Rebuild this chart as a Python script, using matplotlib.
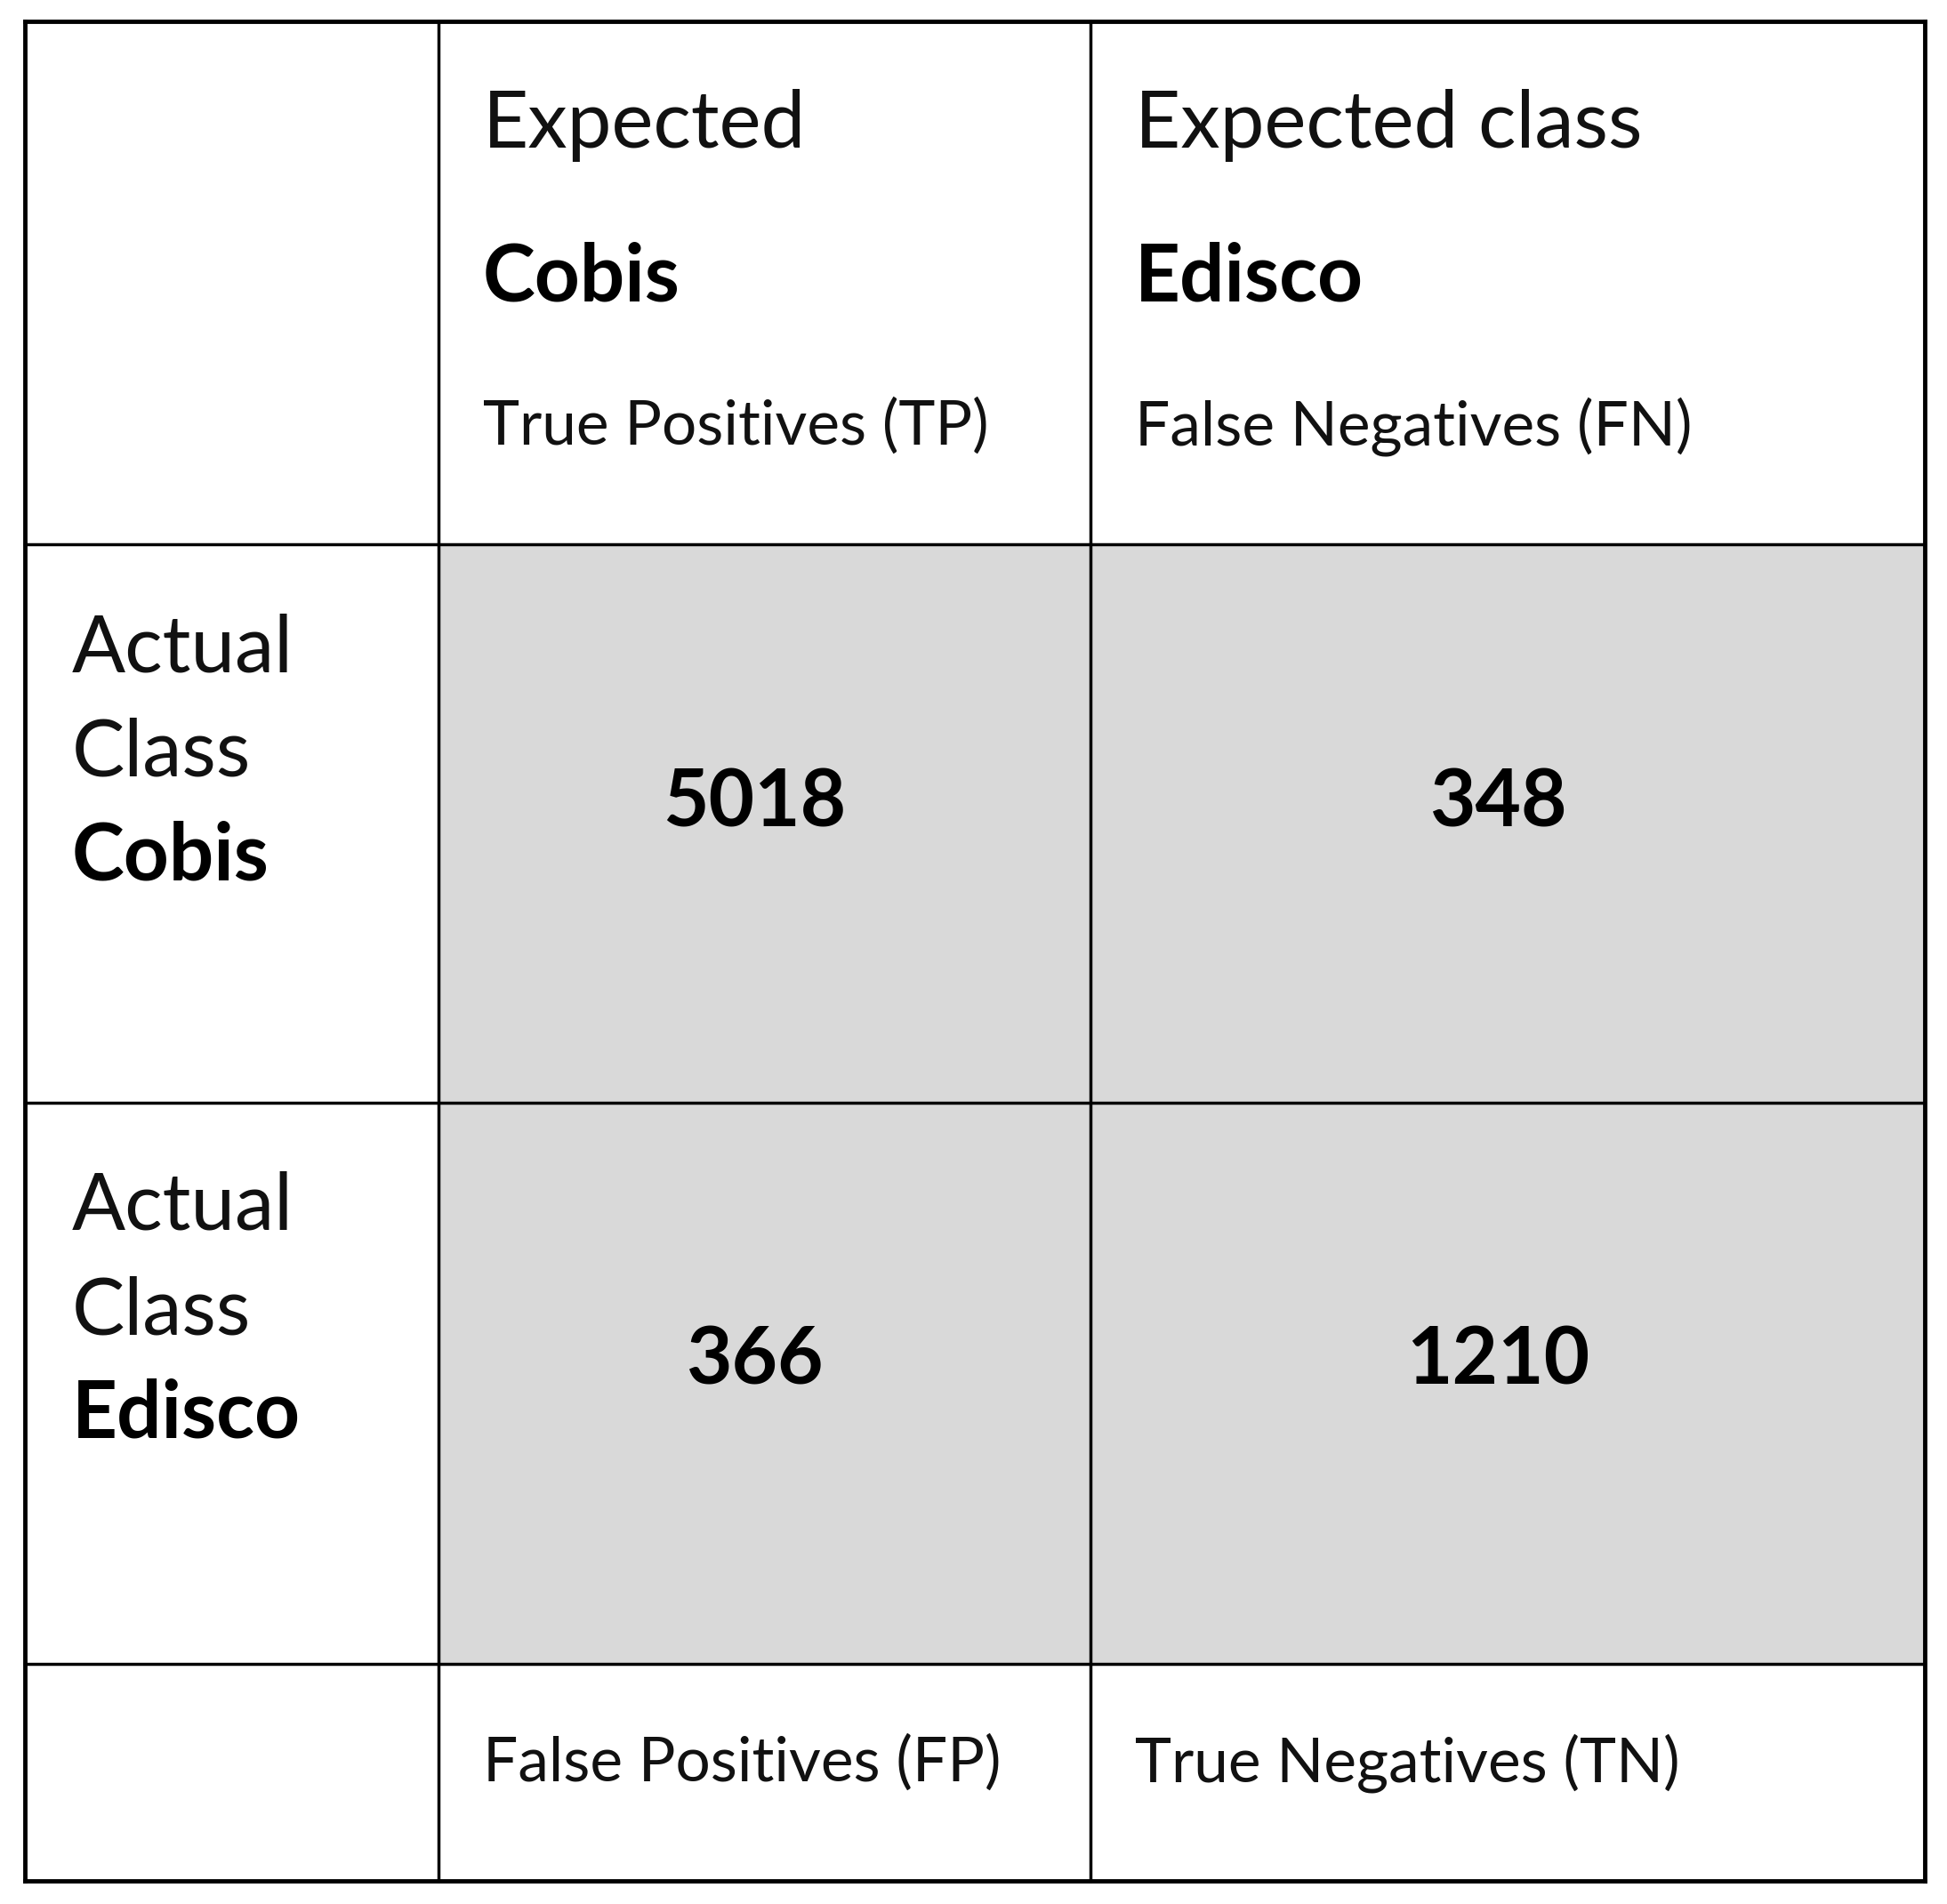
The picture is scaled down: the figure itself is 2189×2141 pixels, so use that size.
import matplotlib.pyplot as plt
from matplotlib.patches import Rectangle

plt.rcParams['font.family'] = ['Lato', 'DejaVu Sans']

# table content
col_head_top = ["Expected", "Expected class"]
classes = ["Cobis", "Edisco"]
top_labels = ["True Positives (TP)", "False Negatives (FN)"]
bottom_labels = ["False Positives (FP)", "True Negatives (TN)"]
counts = [[5018, 348], [366, 1210]]

# grid lines in figure fractions (y from top)
xs = [0.0128, 0.225, 0.56, 0.9885]
ys = [0.011, 0.286, 0.579, 0.874, 0.988]

fig = plt.figure(figsize=(21.89, 21.41), dpi=100)
ax = fig.add_axes([0, 0, 1, 1])
ax.set_xlim(0, 1)
ax.set_ylim(1, 0)
ax.axis("off")

# gray value cells
for r in range(2):
    for c in range(2):
        ax.add_patch(Rectangle((xs[c + 1], ys[r + 1]), xs[c + 2] - xs[c + 1],
                               ys[r + 2] - ys[r + 1], facecolor="#d9d9d9", edgecolor="none"))

for x in xs:
    ax.plot([x, x], [ys[0], ys[-1]], color="black", lw=3.5 if x in (xs[0], xs[-1]) else 2.5)
for y in ys:
    ax.plot([xs[0], xs[-1]], [y, y], color="black", lw=3.5 if y in (ys[0], ys[-1]) else 2.5)

# header row
for c in range(2):
    x0 = xs[c + 1] + 0.023
    ax.text(x0, 0.066, col_head_top[c], fontsize=64, va="center", color="#111111")
    ax.text(x0, 0.146, classes[c], fontsize=64, fontweight="bold", va="center")
    ax.text(x0, 0.224, top_labels[c], fontsize=50, va="center", color="#111111")
    ax.text(x0, 0.926, bottom_labels[c], fontsize=50, va="center", color="#111111")

# row headers and counts
for r in range(2):
    top = ys[r + 1]
    ax.text(0.037, top + 0.055, "Actual", fontsize=64, va="center", color="#111111")
    ax.text(0.037, top + 0.110, "Class", fontsize=64, va="center", color="#111111")
    ax.text(0.037, top + 0.164, classes[r], fontsize=64, fontweight="bold", va="center")
    for c in range(2):
        ax.text((xs[c + 1] + xs[c + 2]) / 2 - 0.005, top + 0.136, str(counts[r][c]),
                fontsize=64, fontweight="bold", ha="center", va="center")

fig.savefig("out.png", dpi=100)
